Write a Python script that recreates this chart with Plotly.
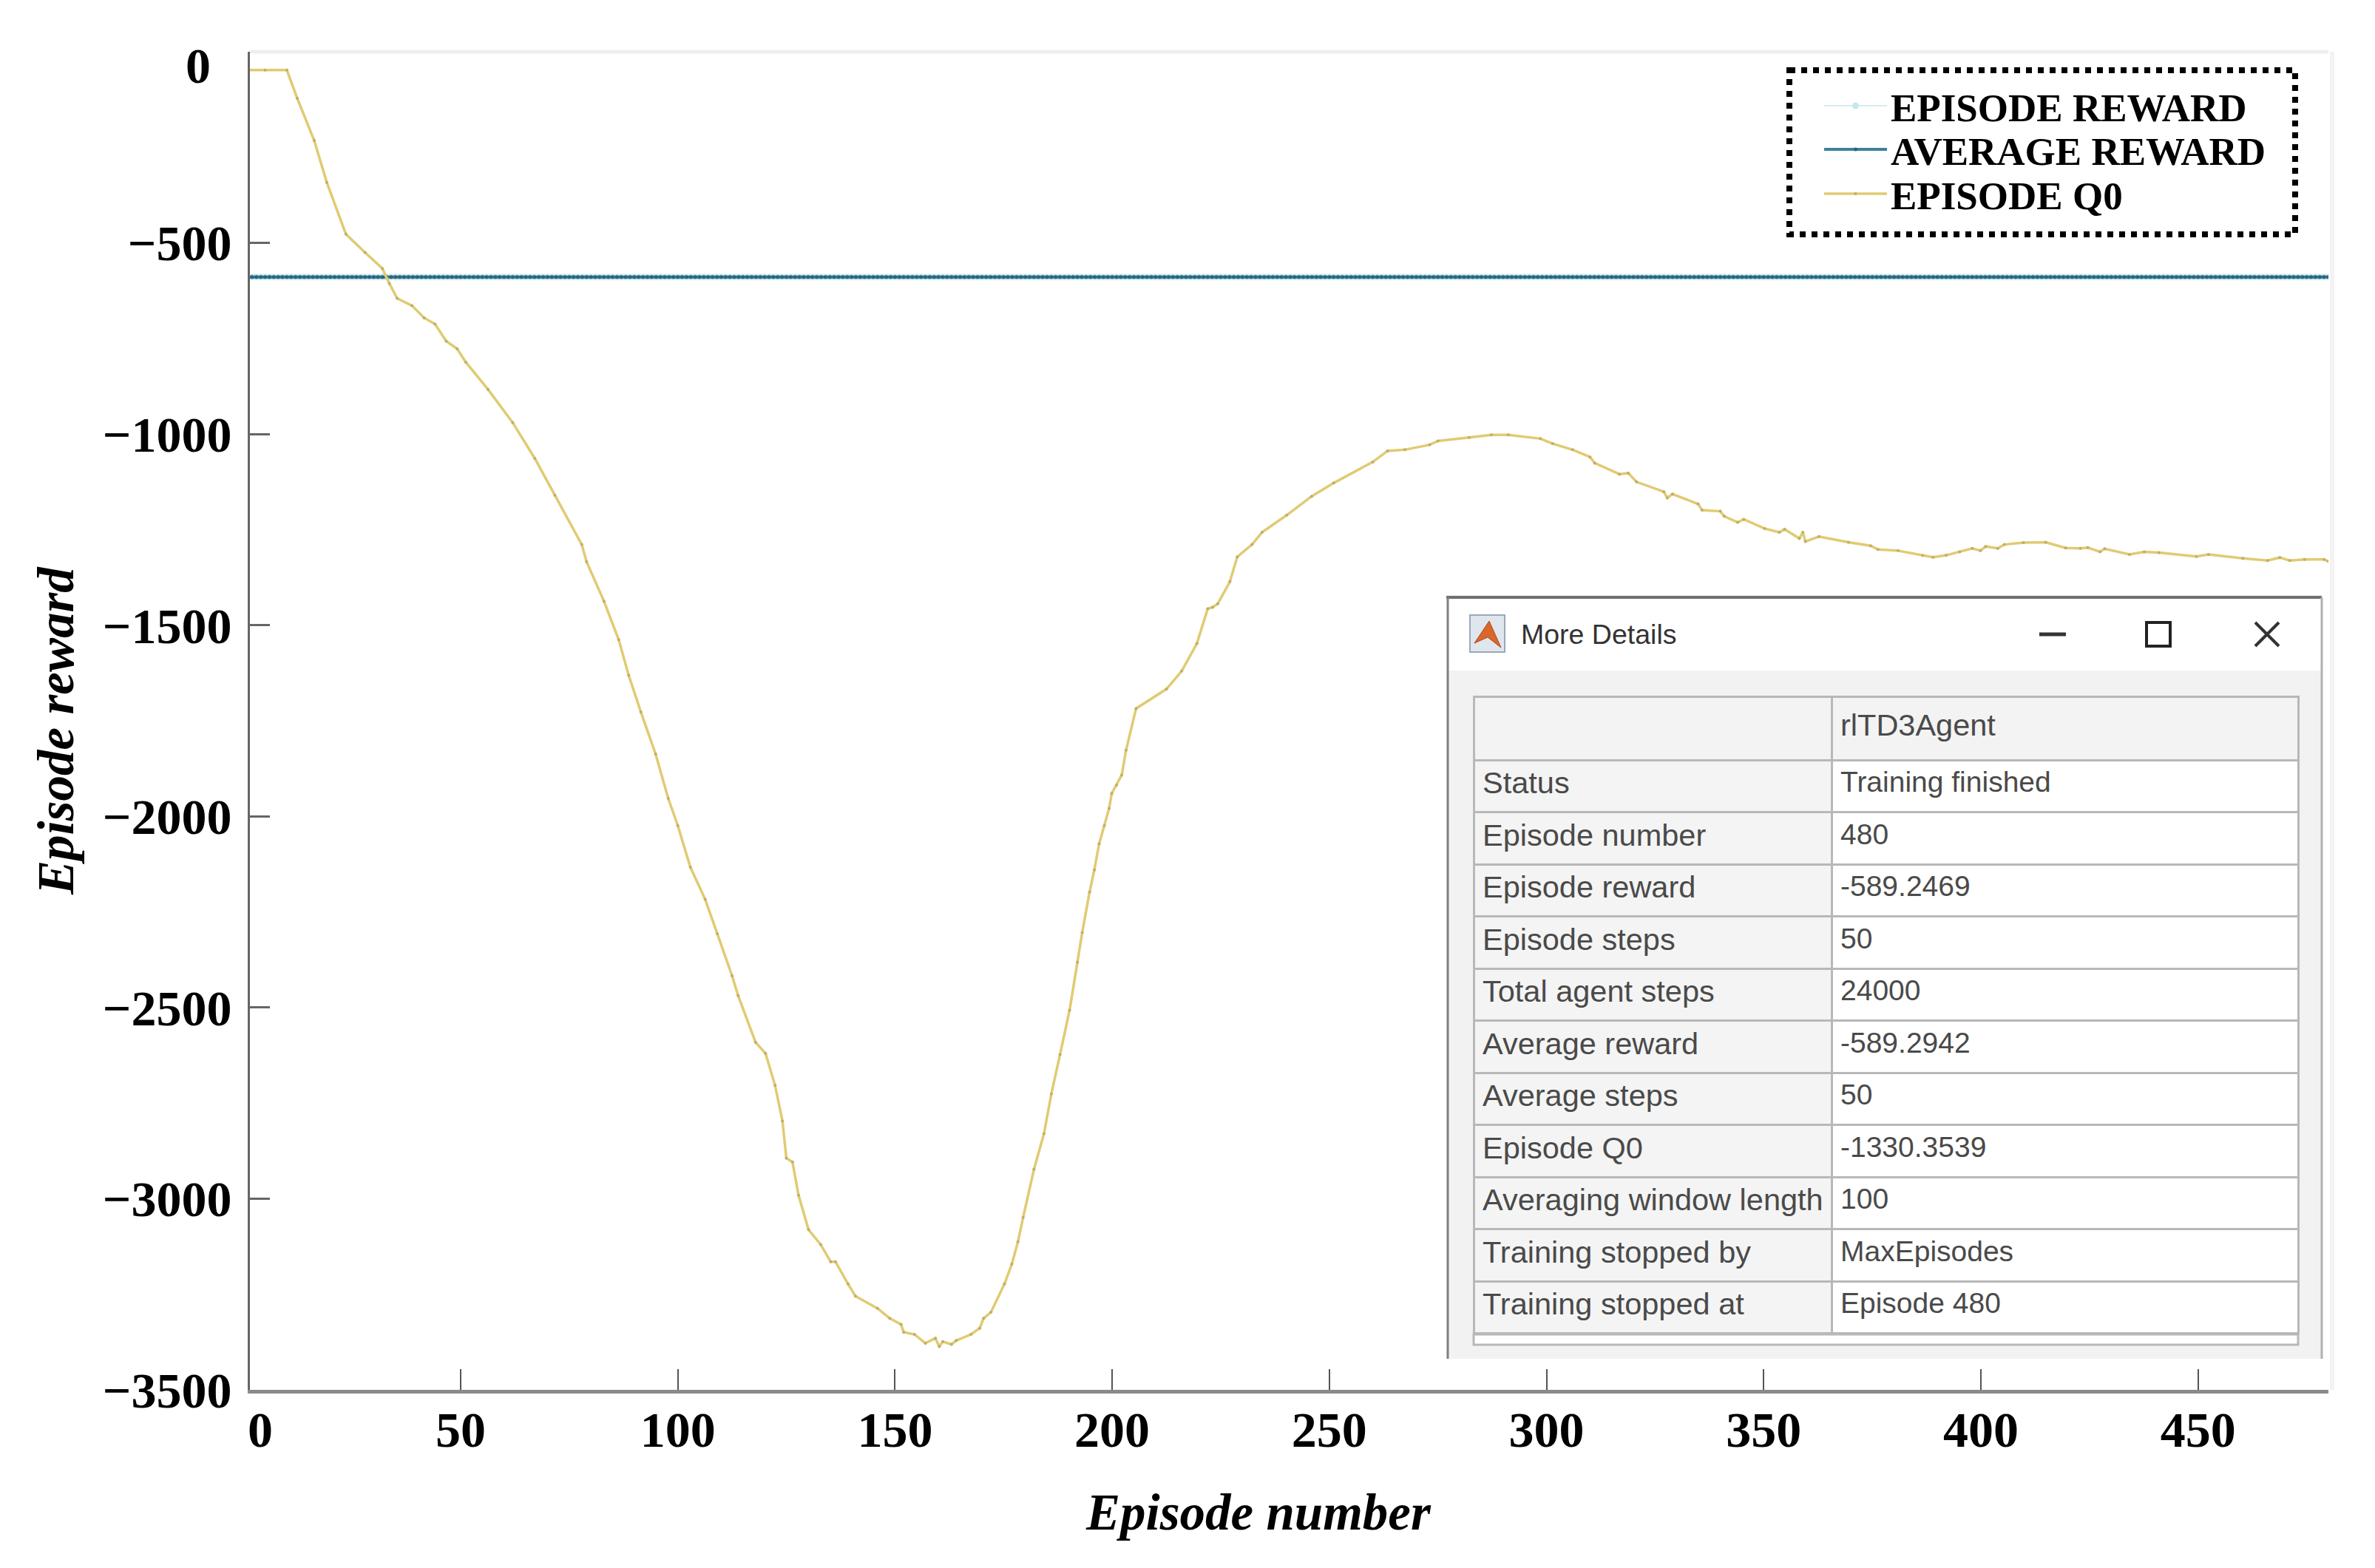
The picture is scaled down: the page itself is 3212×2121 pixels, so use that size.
import plotly.graph_objects as go

# ---------- data ----------
episodes = list(range(1, 481))
episode_reward_value = -589.2469
average_reward_value = -589.2942
q0_points = [
    (1, -48), (5, -48), (10, -48), (12.4, -122), (16.3, -232), (19.2, -342), (23.6, -477), (28, -525), (32, -567),
    (33.6, -606), (35.4, -645), (38.8, -664), (41.6, -696), (44.1, -712), (46.7, -757), (49.2, -777), (51.2, -812),
    (56.3, -883), (62, -970), (67.1, -1064), (71.7, -1160), (77.9, -1289), (79, -1334), (83, -1437), (86.4, -1538),
    (88.7, -1631), (91.5, -1727), (94.9, -1837), (97.8, -1953), (100, -2024), (102.9, -2133), (106.3, -2217),
    (109.1, -2307), (112.5, -2417), (113.9, -2469), (117.9, -2591), (120.2, -2620), (122.4, -2704), (124.1, -2797),
    (125, -2894), (126.4, -2904), (127.8, -2991), (130.1, -3081), (132.9, -3120), (135.2, -3165), (136.3, -3165),
    (139.2, -3223), (140.9, -3255), (146, -3287), (148.8, -3313), (151.4, -3329), (152, -3349), (154.5, -3355),
    (157, -3378), (159.3, -3365), (160.2, -3387), (161, -3374), (163, -3381), (164.1, -3371), (167.5, -3355),
    (169.5, -3339), (170.4, -3313), (172.1, -3297), (175.2, -3223), (176.9, -3171), (178.3, -3113), (179.5, -3049),
    (182, -2923), (184.3, -2830), (186, -2726), (188, -2623), (190.2, -2507), (192, -2382), (193.1, -2304),
    (194.8, -2198), (195.9, -2140), (197, -2072), (198.2, -2024), (199.3, -1979), (199.9, -1940), (201, -1918),
    (202.2, -1892), (203.2, -1827), (205.5, -1718), (212.5, -1667), (216, -1620), (219.5, -1548), (222, -1457),
    (223.1, -1453), (224.3, -1444), (227.1, -1386), (228.8, -1321), (232.2, -1289), (234.5, -1257), (240.2, -1212),
    (245.9, -1163), (251, -1128), (260, -1073), (263.4, -1044), (267.4, -1041), (273.1, -1028), (275, -1018),
    (282.2, -1009), (287.3, -1002), (291.2, -1002), (298.6, -1012), (301.4, -1025), (306, -1041), (310, -1060),
    (311.1, -1076), (316.8, -1105), (318.8, -1102), (320.7, -1125), (327, -1151), (327.8, -1167), (329, -1157),
    (334.9, -1183), (335.8, -1199), (340, -1202), (340.9, -1215), (344, -1231), (345.4, -1223), (350.2, -1247),
    (353.6, -1257), (354.8, -1249), (358.2, -1273), (359, -1257), (359.6, -1281), (362.7, -1268), (369.5, -1283),
    (374.6, -1292), (376.3, -1302), (380.9, -1305), (386.6, -1318), (389, -1322), (392, -1317), (395.1, -1308),
    (398, -1299), (399.9, -1305), (401.1, -1294), (403.9, -1299), (405.4, -1289), (409.8, -1284), (414.9, -1283),
    (419.5, -1298), (422.9, -1299), (424.6, -1297), (427.4, -1308), (428.5, -1300), (434.2, -1315), (437.6, -1308),
    (441, -1310), (449.6, -1320), (452.4, -1315), (460.3, -1325), (466, -1331), (468.8, -1323), (471.1, -1331),
    (474.5, -1328), (479, -1328), (480, -1333),
]
q0_x = [p[0] for p in q0_points]
q0_y = [p[1] for p in q0_points]
x_ticks = [50, 100, 150, 200, 250, 300, 350, 400, 450]
y_ticks = [0, -500, -1000, -1500, -2000, -2500, -3000, -3500]
y_tick_text = ["", "\u2212500", "\u22121000", "\u22121500", "\u22122000", "\u22122500", "\u22123000", "\u22123500"]
detail_labels = ["Status", "Episode number", "Episode reward", "Episode steps", "Total agent steps",
                 "Average reward", "Average steps", "Episode Q0", "Averaging\u00a0window\u00a0length",
                 "Training stopped by", "Training stopped at"]
detail_values = ["Training finished", "480", "-589.2469", "50", "24000", "-589.2942", "50", "-1330.3539", "100",
                 "MaxEpisodes", "Episode 480"]

# ---------- layout (the page adds an 8 px body margin) ----------
W, H = 3212, 2121
PAGE = 8
L, R, T, B = 338, 3149, 70, 1880
SERIF = "Liberation Serif"
SANS = "Liberation Sans"
px = lambda v: (v - L) / (R - L)
py = lambda v: (B - v) / (B - T)


def rect(x0, y0, x1, y1, fill=None, line=None, width=0, dash=None, layer="above"):
    return dict(type="rect", xref="paper", yref="paper", x0=px(x0), x1=px(x1), y0=py(y0), y1=py(y1),
                fillcolor=fill or "rgba(0,0,0,0)", layer=layer,
                line=dict(color=line or "rgba(0,0,0,0)", width=width, dash=dash))


def seg(x0, y0, x1, y1, color, width):
    return dict(type="line", xref="paper", yref="paper", x0=px(x0), x1=px(x1), y0=py(y0), y1=py(y1),
                layer="above", line=dict(color=color, width=width))


def legend_at(y):
    return dict(x=px(2462), y=py(y), xanchor="left", yanchor="top", bgcolor="rgba(0,0,0,0)", borderwidth=0,
                itemwidth=85, font=dict(family=SERIF, size=53, color="#000000", weight="bold"),
                itemclick=False, itemdoubleclick=False)


fig = go.Figure()
fig.add_trace(go.Scatter(x=episodes, y=[episode_reward_value] * len(episodes), name="EPISODE REWARD",
                         mode="lines+markers", legend="legend", line=dict(color="#d5ecf0", width=2),
                         marker=dict(color="#c3e8f0", size=9)))
fig.add_trace(go.Scatter(x=episodes, y=[average_reward_value] * len(episodes), name="AVERAGE REWARD",
                         mode="lines+markers", legend="legend2", line=dict(color="#3f8199", width=4),
                         marker=dict(color="#2f6378", size=5)))
fig.add_trace(go.Scatter(x=q0_x, y=q0_y, name="EPISODE Q0", mode="lines+markers", legend="legend3",
                         line=dict(color="#e0cb72", width=3.5), marker=dict(color="#bfae6b", size=4)))

detail_rows = len(detail_labels)
header_font = dict(family=SANS, size=41.5, color="#4a4a4a")
cell_font = dict(family=SANS, size=[41.5, 39], color="#4a4a4a")
clear = "rgba(0,0,0,0)"
# grid of the details table
fig.add_trace(go.Table(
    domain=dict(x=[px(1993), px(3108)], y=[py(1805), py(942)]),
    columnwidth=[484, 631],
    header=dict(values=["", ""], height=86, fill_color="#f3f3f3", line=dict(color="#b8b8b8", width=3)),
    cells=dict(values=[[""] * detail_rows, [""] * detail_rows], height=70.5,
               fill_color=[["#f4f4f4"] * detail_rows, ["#ffffff"] * detail_rows],
               line=dict(color="#b8b8b8", width=3)),
))
# its text, set slightly lower in the cells than plotly's fixed cell padding allows
fig.add_trace(go.Table(
    domain=dict(x=[px(1997), px(3112)], y=[py(1818), py(956)]),
    columnwidth=[484, 631],
    header=dict(values=["", "rlTD3Agent"], height=78, fill_color=clear, align="left",
                line=dict(color=clear, width=0), font=header_font),
    cells=dict(values=[detail_labels, detail_values], height=70.5, fill_color=clear, align="left",
               line=dict(color=clear, width=0), font=cell_font),
))

shapes = [
    seg(L, T, R, T, "#eeeeee", 5),
    seg(3154, T, 3154, B, "#f3f3f3", 6),
    rect(2420, 95, 3104, 317, line="#000000", width=8, dash="dot"),
    # "More Details" window
    rect(1956, 805, 3140, 1838, fill="#f2f2f2", layer="below"),
    rect(1956, 810, 3140, 907, fill="#ffffff", layer="below"),
    rect(1993, 1805, 3108, 1819, fill="#ffffff", line="#b8b8b8", width=3, layer="below"),
    seg(1956, 808, 3140, 808, "#707070", 4),
    seg(1958, 808, 1958, 1838, "#808080", 3),
    seg(3140, 808, 3140, 1838, "#b0b0b0", 3),
    seg(2758, 858, 2794, 858, "#333333", 5),
    rect(2903, 842, 2935, 874, line="#222222", width=4),
    seg(3050, 842, 3082, 874, "#333333", 4),
    seg(3050, 874, 3082, 842, "#333333", 4),
    rect(1988, 832, 2035, 882, fill="#dfe6ee", line="#9aa8b8", width=2),
    dict(type="path", xref="paper", yref="paper", layer="above", fillcolor="#d9662b",
         line=dict(color="#b04a1c", width=1),
         path=f"M {px(1994)} {py(870)} L {px(2014)} {py(840)} L {px(2030)} {py(876)} L {px(2012)} {py(862)} Z"),
]

annotations = [
    dict(text="More Details", xref="paper", yref="paper", x=px(2055), y=py(858), xanchor="left", yanchor="middle",
         showarrow=False, font=dict(family=SANS, size=37.5, color="#333333")),
    dict(text="<b>0</b>", xref="paper", yref="paper", x=px(352), y=py(1934), xanchor="center", yanchor="middle",
         showarrow=False, font=dict(family=SERIF, size=68, color="#000000")),
    dict(text="<b>0</b>", xref="paper", yref="paper", x=px(268), y=py(89), xanchor="center", yanchor="middle",
         showarrow=False, font=dict(family=SERIF, size=68, color="#000000")),
    dict(text="<b><i>Episode number</i></b>", xref="paper", yref="paper", x=px(1702), y=py(2046), xanchor="center",
         yanchor="middle", showarrow=False, font=dict(family=SERIF, size=69, color="#000000")),
    dict(text="<b><i>Episode reward</i></b>", xref="paper", yref="paper", x=px(76), y=py(989), xanchor="center",
         yanchor="middle", showarrow=False, textangle=-90, font=dict(family=SERIF, size=69, color="#000000")),
]

axis_font = dict(family=SERIF, size=68, color="#000000", weight="bold")

fig.update_layout(
    width=W - PAGE, height=H - PAGE, autosize=False,
    margin=dict(l=L - PAGE, r=W - R, t=T - PAGE, b=H - B, pad=0),
    paper_bgcolor="#ffffff", plot_bgcolor="rgba(0,0,0,0)",
    showlegend=True,
    legend=legend_at(102), legend2=legend_at(161), legend3=legend_at(221),
    xaxis=dict(range=[1.5, 480], tickmode="array", tickvals=x_ticks, ticktext=[str(v) for v in x_ticks],
               ticks="inside", ticklen=28, tickwidth=2, tickcolor="#555555", tickfont=axis_font,
               showgrid=False, zeroline=False, showline=True, linecolor="#8a8a8a", linewidth=5,
               ticklabelstandoff=-10),
    yaxis=dict(range=[-3500, 0], tickmode="array", tickvals=y_ticks, ticktext=y_tick_text,
               ticks="inside", ticklen=27, tickwidth=3, tickcolor="#666666", tickfont=axis_font,
               showgrid=False, zeroline=False, showline=True, linecolor="#666666", linewidth=3,
               ticklabelstandoff=8),
    shapes=shapes, annotations=annotations,
)

fig.write_html("out.html")
